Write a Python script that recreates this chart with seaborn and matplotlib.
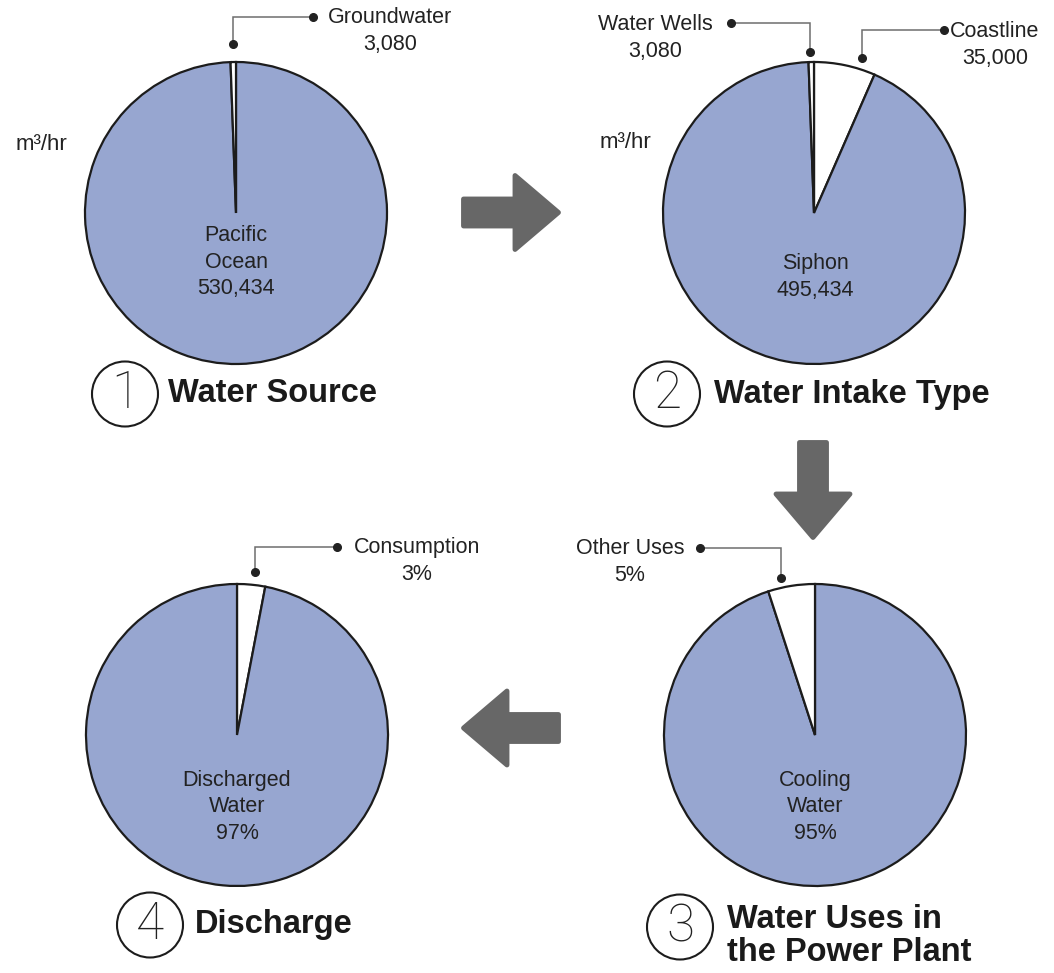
import numpy as np
import matplotlib
matplotlib.use("Agg")
import matplotlib.pyplot as plt
from matplotlib.patches import Ellipse, Polygon
import seaborn as sns

# ---- data ----
source_labels = ["Pacific\nOcean", "Groundwater"]
source_values = [530434, 3080]

intake_labels = ["Coastline", "Siphon", "Water Wells"]
intake_values = [35000, 495434, 3080]

use_labels = ["Cooling\nWater", "Other Uses"]
use_pct = [95, 5]

discharge_labels = ["Consumption", "Discharged\nWater"]
discharge_pct = [3, 97]

step_numbers = ["1", "2", "3", "4"]
step_titles = ["Water Source", "Water Intake Type",
               "Water Uses in\nthe Power Plant", "Discharge"]
unit_label = "m\u00b3/hr"

# ---- style ----
sns.set_theme(style="white")
plt.rcParams["font.family"] = ["Liberation Sans", "DejaVu Sans"]

W, H = 1054, 973
BLUE = "#97a6d0"
EDGE = "#1c1c1c"
TXT = "#222222"
ARROW = "#676767"
LEADER = "#6e6e6e"
R = 151

fig = plt.figure(figsize=(W / 100, H / 100), dpi=100)
ax = fig.add_axes([0, 0, 1, 1])


def Y(y):
    """Screen-style y (down from top) to axis y."""
    return H - y


def draw_pie(values, colors, cx, cy):
    ax.pie(values, colors=colors, startangle=90, counterclock=False,
           center=(cx, Y(cy)), radius=R, frame=True,
           wedgeprops=dict(edgecolor=EDGE, linewidth=1.6))


def leader(points):
    xs = [p[0] for p in points]
    ys = [Y(p[1]) for p in points]
    ax.plot(xs, ys, color=LEADER, lw=1.1, solid_joinstyle="miter", zorder=4)
    ax.plot([xs[0], xs[-1]], [ys[0], ys[-1]], "o", color=TXT, ms=5.5, zorder=5)


def label(x, y, s, ha="center", size=15.5):
    ax.text(x, Y(y), s, ha=ha, va="center", fontsize=size, color=TXT,
            linespacing=1.32, zorder=6)


def step_title(num, title, cx, cy, tx, ty):
    ax.add_patch(Ellipse((cx, Y(cy)), 66, 65, facecolor="white",
                         edgecolor=EDGE, lw=1.5, zorder=3))
    ax.text(cx, Y(cy), num, ha="center", va="center", fontsize=37,
            color=TXT, family=["Roboto", "Liberation Sans"],
            fontweight="light", zorder=4)
    ax.text(tx, Y(ty), title, ha="left", va="center", fontsize=23.5,
            fontweight="bold", color="#1a1a1a", linespacing=1.12, zorder=4)


def arrow(tail, angle_deg, length=100, shaft=32, head_len=46, head_w=79):
    # block arrow built along +x, then rotated into place
    hl, hs, hw = length - head_len, shaft / 2, head_w / 2
    pts = np.array([[0, -hs], [hl, -hs], [hl, -hw], [length, 0],
                    [hl, hw], [hl, hs], [0, hs]], dtype=float)
    pad = 2.5
    pts[:, 0] = np.clip(pts[:, 0], pad, length - pad)
    pts[:, 1] = np.sign(pts[:, 1]) * (np.abs(pts[:, 1]) - pad)
    a = np.deg2rad(angle_deg)
    rot = np.array([[np.cos(a), -np.sin(a)], [np.sin(a), np.cos(a)]])
    pts = pts @ rot.T + np.array([tail[0], Y(tail[1])])
    ax.add_patch(Polygon(pts, closed=True, facecolor=ARROW, edgecolor=ARROW,
                         lw=3.5, joinstyle="round", zorder=2))


# ---- 1: water source ----
draw_pie(source_values, [BLUE, "white"], 236, 213)
label(236, 262, f"{source_labels[0]}\n{source_values[0]:,}")
leader([(233, 44), (233, 17), (313, 17)])
label(390, 31, f"{source_labels[1]}\n{source_values[1]:,}")
label(16, 145, unit_label, ha="left", size=16)
step_title(step_numbers[0], step_titles[0], 125, 394, 168, 394)

# ---- 2: water intake type ----
draw_pie(intake_values, ["white", BLUE, "white"], 814, 213)
label(815, 277, f"{intake_labels[1]}\n{intake_values[1]:,}")
leader([(731, 23), (810, 23), (810, 52)])
label(655, 38, f"{intake_labels[2]}\n{intake_values[2]:,}")
leader([(862, 58), (862, 30), (944, 30)])
label(995, 45, f"{intake_labels[0]}\n{intake_values[0]:,}")
label(600, 142, unit_label, ha="left", size=16)
step_title(step_numbers[1], step_titles[1], 667, 394, 714, 394)

# ---- 3: water uses ----
draw_pie(use_pct, [BLUE, "white"], 815, 735)
label(815, 807, f"{use_labels[0]}\n{use_pct[0]}%")
leader([(700, 548), (781, 548), (781, 578)])
label(630, 562, f"{use_labels[1]}\n{use_pct[1]}%")
step_title(step_numbers[2], step_titles[2], 680, 927, 727, 936)

# ---- 4: discharge ----
draw_pie(discharge_pct, ["white", BLUE], 237, 735)
label(237, 807, f"{discharge_labels[1]}\n{discharge_pct[1]}%")
leader([(337, 547), (255, 547), (255, 572)])
label(417, 561, f"{discharge_labels[0]}\n{discharge_pct[0]}%")
step_title(step_numbers[3], step_titles[3], 150, 925, 195, 925)

# ---- flow arrows ----
arrow((461, 212.5), 0)
arrow((813, 440), -90)
arrow((561, 728), 180)

ax.set_xlim(0, W)
ax.set_ylim(0, H)
ax.set_aspect("equal")
ax.axis("off")

fig.savefig("out.png", dpi=100, facecolor="white")
